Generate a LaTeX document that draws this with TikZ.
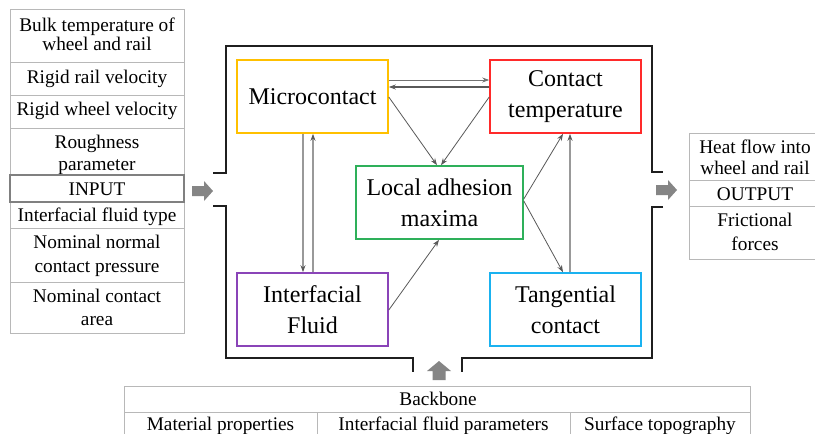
\documentclass[tikz,border=0pt]{standalone}
\usepackage{fontspec}
\setmainfont{Liberation Serif}
\usetikzlibrary{arrows.meta}
\definecolor{cyel}{HTML}{FFC000}
\definecolor{cred}{HTML}{FF2A2A}
\definecolor{cgrn}{HTML}{2EB05A}
\definecolor{cpur}{HTML}{8A44B8}
\definecolor{ccya}{HTML}{1AB2F0}
\definecolor{gridc}{HTML}{B8B8B8}
\definecolor{blkc}{HTML}{858585}
\begin{document}
\begin{tikzpicture}[x=1pt,y=-1pt,
  box/.style={draw, line width=1.6pt, minimum width=151pt, minimum height=73pt,
    inner sep=0pt, align=center, font=\fontsize{24}{31}\selectfont},
  tl/.style={anchor=base, inner sep=0pt, font=\fontsize{19.3}{22}\selectfont},
  arr/.style={draw=black!65, line width=0.8pt, -{Stealth[length=7pt,width=5pt]}},
  varr/.style={draw=black!40, line width=1.4pt, -{Stealth[length=7pt,width=5pt,color=black!65]}},
  frameline/.style={draw=black!88, line width=2.2pt},
  gridline/.style={draw=gridc, line width=0.9pt},
  blockarrow/.style={fill=blkc, draw=none}
]
\useasboundingbox (0,0) rectangle (815,434);
\clip (0,0) rectangle (815,434);
\fill[white] (0,0) rectangle (815,434);

% ---------- left input table ----------
\draw[gridline] (10,9) rectangle (184,333);
\foreach \yy in {62,95,128,228,282} \draw[gridline] (10,\yy) -- (184,\yy);
\node[tl] (in1a) at (97,31) {Bulk temperature of};
\node[tl] (in1b) at (97,50) {wheel and rail};
\node[tl] (in2) at (97,83) {Rigid rail velocity};
\node[tl] (in3) at (97,115) {Rigid wheel velocity};
\node[tl] (in4a) at (97,148) {Roughness};
\node[tl] (in4b) at (97,170) {parameter};
\draw[draw=black!50, line width=1.4pt, fill=white] (10,175) rectangle (184,202);
\node[tl] (input) at (97,195) {INPUT};
\node[tl] (in5) at (97,221) {Interfacial fluid type};
\node[tl] (in6a) at (97,248) {Nominal normal};
\node[tl] (in6b) at (97,272) {contact pressure};
\node[tl] (in7a) at (97,302) {Nominal contact};
\node[tl] (in7b) at (97,325) {area};

% ---------- right output table ----------
\draw[gridline] (689,133) rectangle (822,259);
\foreach \yy in {180,206} \draw[gridline] (689,\yy) -- (822,\yy);
\node[tl] (out1a) at (755,153) {Heat flow into};
\node[tl] (out1b) at (755,174) {wheel and rail};
\node[tl] (output) at (755,200) {OUTPUT};
\node[tl] (out2a) at (755,226) {Frictional};
\node[tl] (out2b) at (755,250) {forces};

% ---------- bottom backbone table ----------
\draw[gridline] (124,440) -- (124,386) -- (750,386) -- (750,440);
\draw[gridline] (124,412) -- (750,412);
\draw[gridline] (317,412) -- (317,440);
\draw[gridline] (570,412) -- (570,440);
\node[tl] (backbone) at (438,405) {Backbone};
\node[tl] (mat) at (220.5,430) {Material properties};
\node[tl] (ifp) at (443.5,430) {Interfacial fluid parameters};
\node[tl] (topo) at (660,430) {Surface topography};

% ---------- frame ----------
\draw[frameline] (213,173) -- (226,173) -- (226,46) -- (652,46) -- (652,172) -- (663,172);
\draw[frameline] (213,206) -- (226,206) -- (226,358) -- (413,358) -- (413,372);
\draw[frameline] (663,207) -- (652,207) -- (652,358) -- (462,358) -- (462,372);

% ---------- block arrows ----------
\fill[blockarrow] (192,186) -- (204,186) -- (204,181) -- (213,191) -- (204,201) -- (204,196) -- (192,196) -- cycle;
\fill[blockarrow] (656,185) -- (668,185) -- (668,180) -- (677,190) -- (668,200) -- (668,195) -- (656,195) -- cycle;
\fill[blockarrow] (432.5,380) -- (432.5,371) -- (427,371) -- (439,361) -- (451,371) -- (445.5,371) -- (445.5,380) -- cycle;

% ---------- central nodes ----------
\node[box, draw=cyel] (micro) at (312.5,96.5) {Microcontact};
\node[box, draw=cred] (ctemp) at (565.5,96.5) {Contact\\temperature};
\node[box, draw=cgrn, minimum width=167pt] (lam) at (439.5,202.5) {Local adhesion\\maxima};
\node[box, draw=cpur] (fluid) at (312.5,309.5) {Interfacial\\Fluid};
\node[box, draw=ccya] (tang) at (565.5,309.5) {Tangential\\contact};

% ---------- connectors ----------
\draw[arr, draw=black!55] (micro.east |- 0,80) -- (ctemp.west |- 0,80);
\draw[arr, line width=1.1pt] (ctemp.west |- 0,87) -- (micro.east |- 0,87);
\draw[arr] (micro.east |- 0,97) -- (lam.north -| 437,0);
\draw[arr] (ctemp.west |- 0,97) -- (lam.north -| 441,0);
\draw[arr] (fluid.east |- 0,310) -- (lam.south -| 439,0);
\draw[arr] (lam.east |- 0,199) -- (ctemp.south -| 563,0);
\draw[arr] (lam.east |- 0,201) -- (tang.north -| 563,0);
\draw[varr] (micro.south -| 303,0) -- (fluid.north -| 303,0);
\draw[varr] (fluid.north -| 313,0) -- (micro.south -| 313,0);
\draw[varr] (tang.north -| 570,0) -- (ctemp.south -| 570,0);
\end{tikzpicture}
\end{document}
